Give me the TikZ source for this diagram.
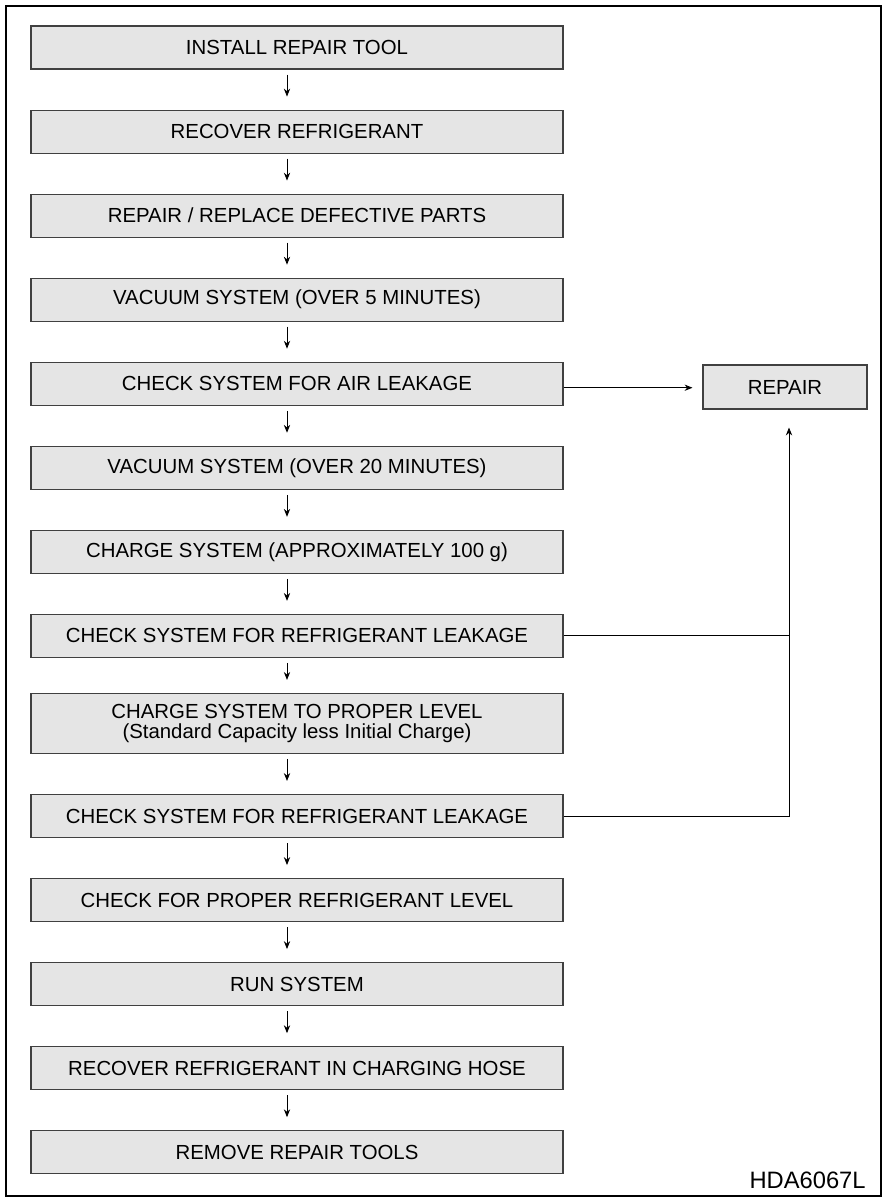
\documentclass[tikz,border=0pt]{standalone}
\usepackage{fontspec}
\setmainfont{Liberation Sans}
\usetikzlibrary{arrows.meta, positioning, calc}
\tikzstyle{stepbox} = [rectangle, minimum width=10.64cm, minimum height=0.86cm, text centered, align=center, draw=black!75, line width=0.6pt, fill=black!10, font=\fontsize{11.6}{13}\selectfont, inner sep=1pt]
\tikzstyle{arrow} = [line width=0.5pt,-{Stealth[length=4.5pt,width=3.6pt]}]

\begin{document}
\begin{tikzpicture}[node distance=0.8cm]
  \useasboundingbox (0,0) rectangle (17.66,-23.98);
  % frame
  \draw[line width=1.2pt] (0.12,-0.12) rectangle (17.62,-23.92);

  \node[stepbox] at (5.94,-0.95) (install) {INSTALL REPAIR TOOL};
  \node[stepbox, below=of install] (recover) {RECOVER REFRIGERANT};
  \node[stepbox, below=of recover] (replace) {REPAIR / REPLACE DEFECTIVE PARTS};
  \node[stepbox, below=of replace] (vac1) {VACUUM SYSTEM (OVER 5 MINUTES)};
  \node[stepbox, below=of vac1] (airchk) {CHECK SYSTEM FOR AIR LEAKAGE};
  \node[stepbox, below=of airchk] (vac2) {VACUUM SYSTEM (OVER 20 MINUTES)};
  \node[stepbox, below=of vac2] (charge1) {CHARGE SYSTEM (APPROXIMATELY 100 g)};
  \node[stepbox, below=of charge1] (leak1) {CHECK SYSTEM FOR REFRIGERANT LEAKAGE};
  \node[stepbox, below=0.7cm of leak1, minimum height=1.2cm] (charge2) {CHARGE SYSTEM TO PROPER LEVEL\\[-2pt](Standard Capacity less Initial Charge)};
  \node[stepbox, below=of charge2] (leak2) {CHECK SYSTEM FOR REFRIGERANT LEAKAGE};
  \node[stepbox, below=of leak2] (level) {CHECK FOR PROPER REFRIGERANT LEVEL};
  \node[stepbox, below=of level] (run) {RUN SYSTEM};
  \node[stepbox, below=of run] (hose) {RECOVER REFRIGERANT IN CHARGING HOSE};
  \node[stepbox, below=of hose] (remove) {REMOVE REPAIR TOOLS};

  \node[stepbox, minimum width=3.28cm, minimum height=0.88cm] at (15.7,-7.74) (repair) {REPAIR};

  % Flow
  \foreach \a/\b in {install/recover, recover/replace, replace/vac1, vac1/airchk, airchk/vac2, vac2/charge1, charge1/leak1, leak1/charge2, charge2/leak2, leak2/level, level/run, run/hose, hose/remove}
    \draw[arrow] ([xshift=-0.2cm, yshift=-0.1cm]\a.south) -- ([xshift=-0.2cm, yshift=0.26cm]\b.north);

  % Leak branches
  \coordinate (bus) at ([xshift=0.08cm, yshift=-0.36cm]repair.south);
  \draw[arrow, shorten >=0.2cm] ([yshift=-0.08cm]airchk.east) -- ([yshift=-0.08cm]airchk.east -| repair.west);
  \draw[line width=0.5pt] (leak1.east) -- (leak1.east -| bus);
  \draw[arrow] (leak2.east) -| (bus);

  \node[anchor=south east, font=\fontsize{13.5}{15}\selectfont, inner sep=0pt] at (17.32,-23.78) (code) {HDA6067L};
\end{tikzpicture}
\end{document}
